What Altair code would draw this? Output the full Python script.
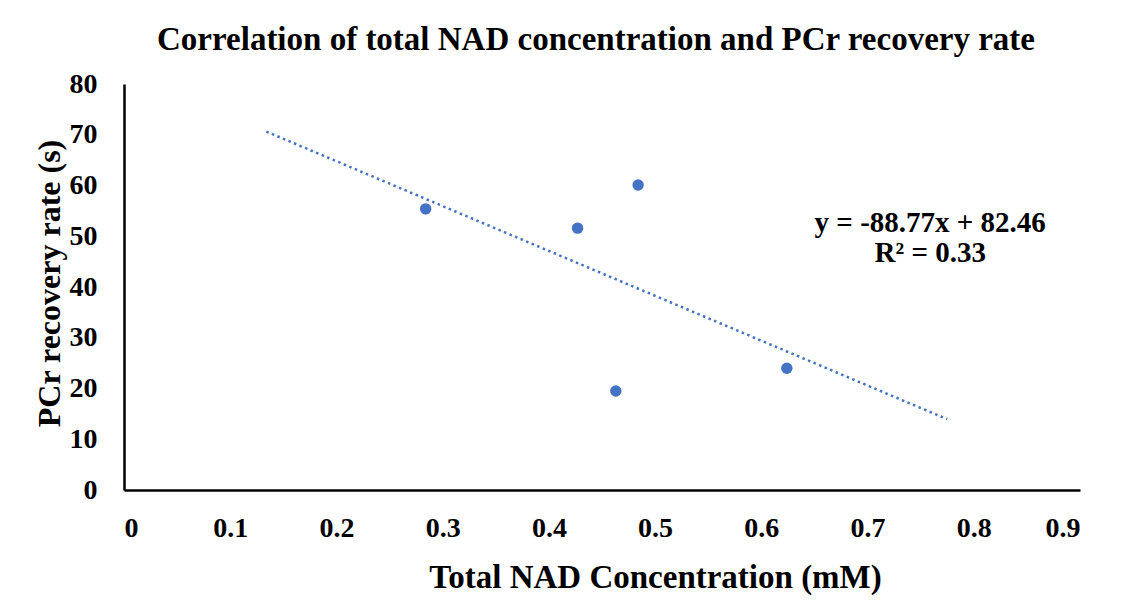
import altair as alt
import pandas as pd

# Data
nad_conc = [0.284, 0.427, 0.484, 0.463, 0.624]
pcr_rate = [55.4, 51.6, 60.1, 19.5, 24.0]
x_ticks = [0, 0.1, 0.2, 0.3, 0.4, 0.5, 0.6, 0.7, 0.8, 0.9]
y_ticks = [0, 10, 20, 30, 40, 50, 60, 70, 80]
trend_extent = [0.134, 0.775]
eq_text = ["y = -88.77x + 82.46\nR\u00b2 = 0.33"]
eq_pos_x = [0.759]
eq_pos_y = [52.6]

FONT = "Liberation Serif"
BLUE = "#4472C4"

df = pd.DataFrame({"nad": nad_conc, "pcr": pcr_rate})
ann = pd.DataFrame({"nad": eq_pos_x, "pcr": eq_pos_y, "t": eq_text})

xscale = alt.Scale(domain=[0, 0.9], nice=False, zero=True)
yscale = alt.Scale(domain=[0, 80], nice=False, zero=True)

points = alt.Chart(df).mark_circle(size=130, color=BLUE, opacity=1).encode(
    x=alt.X("nad:Q", scale=xscale,
            axis=alt.Axis(values=x_ticks, format=".1~f",
                          title="Total NAD Concentration (mM)",
                          titleX=531, titleY=97, titleBaseline="alphabetic",
                          titleAlign="center", labelPadding=24)),
    y=alt.Y("pcr:Q", scale=yscale,
            axis=alt.Axis(values=y_ticks, format="d",
                          title="PCr recovery rate (s)",
                          titleFontSize=32,
                          titleX=-65, titleY=199, titleAngle=270,
                          titleBaseline="alphabetic", titleAlign="center",
                          labelPadding=27)),
)

trend = alt.Chart(df).transform_regression(
    "nad", "pcr", extent=trend_extent
).mark_line(color=BLUE, strokeWidth=2.5, strokeDash=[2.5, 3.5]).encode(
    x=alt.X("nad:Q", scale=xscale),
    y=alt.Y("pcr:Q", scale=yscale),
)

text = alt.Chart(ann).mark_text(
    font=FONT, fontSize=29, fontWeight="bold", color="black",
    lineBreak="\n", lineHeight=30, align="center", baseline="middle",
).encode(
    x=alt.X("nad:Q", scale=xscale),
    y=alt.Y("pcr:Q", scale=yscale),
    text="t:N",
)

chart = alt.layer(trend, points, text).properties(
    width=956,
    height=406,
    padding={"left": 116, "top": 76, "right": 30, "bottom": 112},
    autosize=alt.AutoSizeParams(type="none"),
    title=alt.TitleParams(
        "Correlation of total NAD concentration and PCr recovery rate",
        font=FONT, fontSize=33, fontWeight="bold", color="black",
        anchor="middle", offset=13, dx=-6,
    ),
).configure_view(stroke=None).configure_axis(
    grid=False, ticks=False, tickSize=0,
    domainColor="black", domainWidth=2.5,
    labelFont=FONT, labelFontSize=28, labelFontWeight="bold", labelColor="black",
    titleFont=FONT, titleFontSize=33, titleFontWeight="bold", titleColor="black",
)

chart.save("out.html", embed_options={"renderer": "svg", "actions": False})
